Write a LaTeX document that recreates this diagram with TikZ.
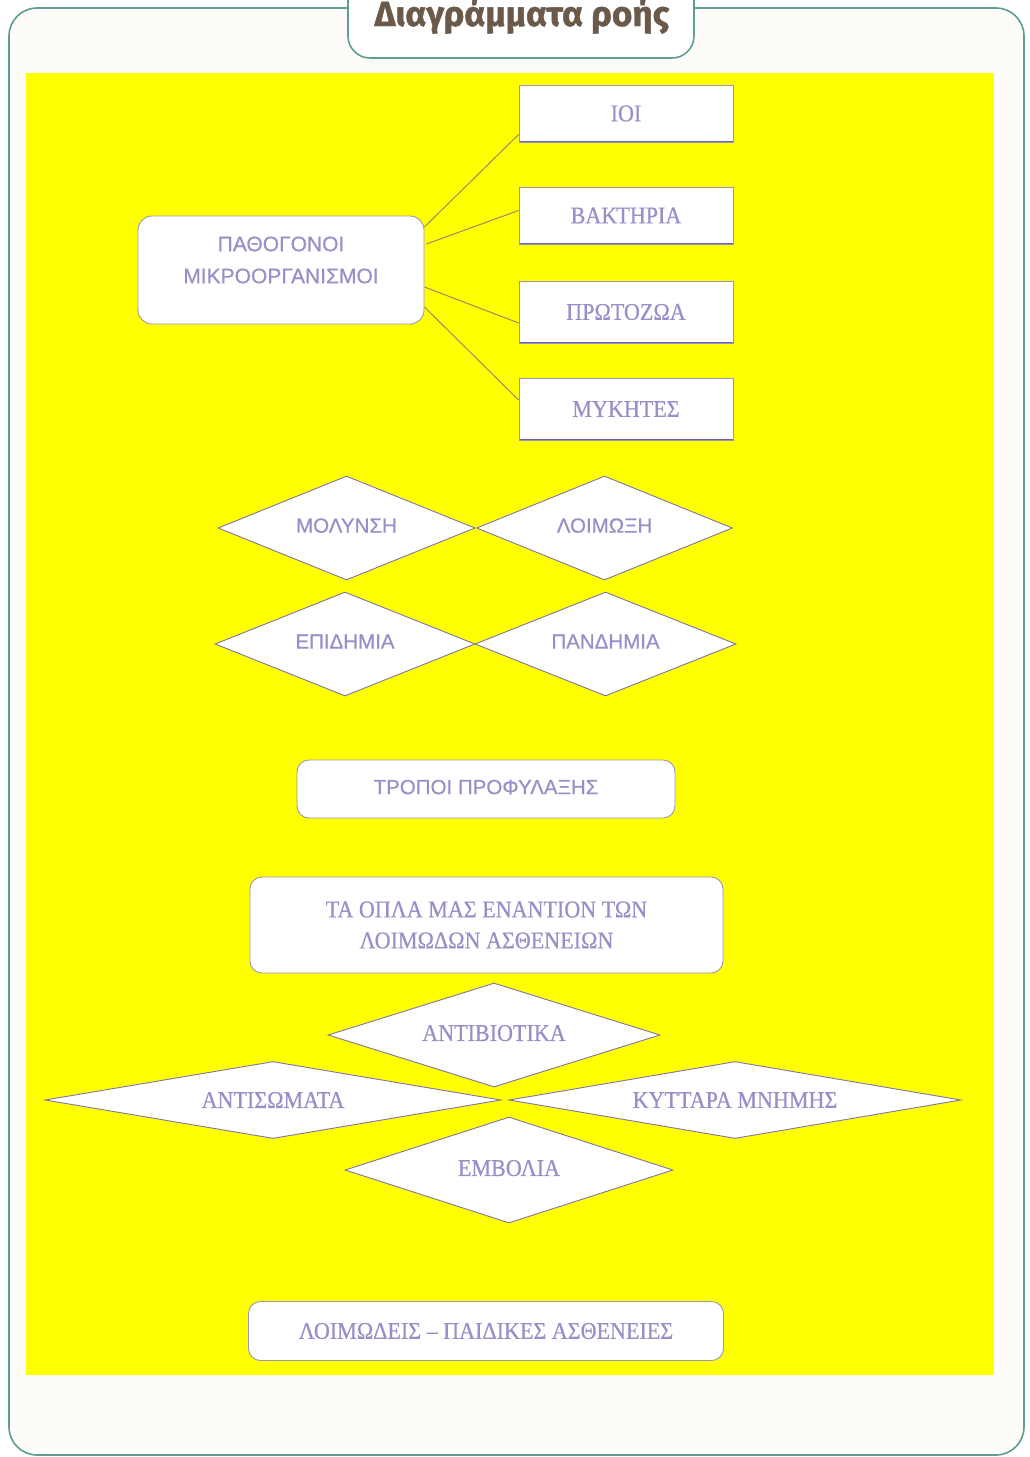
\documentclass[tikz,border=0pt]{standalone}
\usepackage{fontspec}
\setmainfont{Liberation Sans}
\newfontfamily\grsans[FakeBold=0.6]{Liberation Sans}
\newfontfamily\grserif[FakeStretch=0.92,FakeBold=0.5]{Liberation Serif}
\newfontfamily\titlefont[FakeBold=1.2]{Fira Sans Bold}
\usetikzlibrary{shapes.geometric,calc}
\definecolor{frameteal}{HTML}{5E9E92}
\definecolor{framefill}{HTML}{FDFCF9}
\definecolor{yel}{HTML}{FFFF00}
\definecolor{titlebrown}{HTML}{6B5A4A}
\definecolor{txt}{HTML}{9690C8}
\definecolor{boxline}{HTML}{9A96B4}
\definecolor{boxbottom}{HTML}{6660C8}
\definecolor{diamline}{HTML}{7E74A6}
\definecolor{conn}{HTML}{9A8C6A}
\tikzset{
  sanstxt/.style={text=txt, font=\grsans\fontsize{20.5}{31}\selectfont},
  seriftxt/.style={text=txt, font=\grserif\fontsize{24}{31}\selectfont},
  rectbox/.style={rectangle, fill=white, draw=boxline, line width=0.8pt,
    minimum width=214pt, inner sep=0pt, seriftxt,
    path picture={\draw[boxbottom, line width=2.4pt]
      (path picture bounding box.south west) -- (path picture bounding box.south east);}},
  roundbox/.style={rectangle, rounded corners=12pt, fill=white, draw=boxline,
    line width=0.9pt, inner sep=0pt},
  diam/.style={diamond, shape aspect=4, fill=white, draw=diamline, line width=0.9pt,
    inner sep=0pt},
  connector/.style={draw=conn, line width=1pt}
}
\begin{document}
\begin{tikzpicture}[x=1pt,y=-1pt]
\useasboundingbox (0,0) rectangle (1029,1457);
\fill[white] (0,0) rectangle (1029,1457);
% outer frame
\draw[frameteal, fill=framefill, line width=1.6pt, rounded corners=28pt] (9,8) rectangle (1024,1455);
% title tab
\draw[frameteal, fill=white, line width=1.6pt, rounded corners=22pt] (348,-30) rectangle (694,58);
\node[text=titlebrown, font=\titlefont\fontsize{35}{40}\selectfont, anchor=base] (title) at (522,26) {Διαγράμματα ροής};
% yellow panel
\fill[yel] (26,73) rectangle (994,1375);

% pathogens
\node[roundbox, minimum width=286pt, minimum height=108pt, rounded corners=14pt] (patho) at (281,270) {};
\node[sanstxt, align=center, font=\grsans\fontsize{21}{32}\selectfont] (pathoT) at (281,260) {ΠΑΘΟΓΟΝΟΙ\\ΜΙΚΡΟΟΡΓΑΝΙΣΜΟΙ};

\node[rectbox, minimum height=57pt] (ioi) at (626,113.5) {ΙΟΙ};
\node[rectbox, minimum height=57pt] (bakt) at (626,215.5) {ΒΑΚΤΗΡΙΑ};
\node[rectbox, minimum height=62pt] (proto) at (626,312) {ΠΡΩΤΟΖΩΑ};
\node[rectbox, minimum height=62pt] (myk) at (626,409) {ΜΥΚΗΤΕΣ};

\draw[connector] ($(patho.east)+(0,-43)$) -- ($(ioi.west)+(0,21)$);
\draw[connector] ($(patho.east)+(2,-26)$) -- ($(bakt.west)+(0,-5)$);
\draw[connector] ($(patho.east)+(0,17)$) -- ($(proto.west)+(0,11)$);
\draw[connector] ($(patho.east)+(0,37)$) -- ($(myk.west)+(0,-9)$);

% diamonds
\node[diam, minimum width=257pt, minimum height=104pt, sanstxt] (moly) at (346.5,528) {\raisebox{5pt}{ΜΟΛΥΝΣΗ}};
\node[diam, minimum width=256pt, minimum height=104pt, sanstxt] (loim) at (604.5,528) {\raisebox{5pt}{ΛΟΙΜΩΞΗ}};
\node[diam, minimum width=260pt, minimum height=104pt, sanstxt] (epid) at (345,644) {\raisebox{5pt}{ΕΠΙΔΗΜΙΑ}};
\node[diam, minimum width=261pt, minimum height=104pt, sanstxt] (pand) at (605.5,644) {\raisebox{5pt}{ΠΑΝΔΗΜΙΑ}};

% prevention
\node[roundbox, minimum width=378pt, minimum height=58pt, sanstxt] (trop) at (486,789) {\raisebox{4pt}{ΤΡΟΠΟΙ ΠΡΟΦΥΛΑΞΗΣ}};
\node[roundbox, minimum width=473pt, minimum height=96pt, seriftxt, align=center] (opla) at (486.5,925) {ΤΑ ΟΠΛΑ ΜΑΣ ΕΝΑΝΤΙΟΝ ΤΩΝ\\ΛΟΙΜΩΔΩΝ ΑΣΘΕΝΕΙΩΝ};

% weapons diamonds
\node[diam, minimum width=456pt, minimum height=77pt, seriftxt] (antis) at (273,1100) {ΑΝΤΙΣΩΜΑΤΑ};
\node[diam, minimum width=452pt, minimum height=77pt, seriftxt] (kytt) at (735,1100) {ΚΥΤΤΑΡΑ ΜΝΗΜΗΣ};
\node[diam, minimum width=332pt, minimum height=104pt, seriftxt] (antib) at (494,1035) {\raisebox{4pt}{ΑΝΤΙΒΙΟΤΙΚΑ}};
\node[diam, minimum width=328pt, minimum height=106pt, seriftxt] (emvol) at (509,1170) {\raisebox{4pt}{ΕΜΒΟΛΙΑ}};

% bottom
\node[roundbox, minimum width=475pt, minimum height=59pt, seriftxt] (loimod) at (486,1331) {ΛΟΙΜΩΔΕΙΣ – ΠΑΙΔΙΚΕΣ ΑΣΘΕΝΕΙΕΣ};
\end{tikzpicture}
\end{document}
